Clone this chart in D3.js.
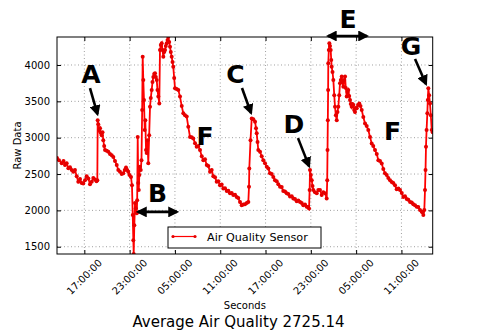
<!DOCTYPE html>
<html><head><meta charset="utf-8">
<script src="https://cdn.jsdelivr.net/npm/d3@7"></script>
<style>body{margin:0;background:#fff} text{font-family:"DejaVu Sans",sans-serif}</style>
</head><body><svg id="c" width="480" height="331"></svg>
<script>
// hours since 00:00 of day 1
const hours = [13.38,13.64,14.00,14.24,14.44,14.66,14.88,15.10,15.33,15.54,15.76,15.99,16.20,16.43,16.65,16.86,17.09,17.31,17.53,17.75,17.98,18.19,18.41,18.61,18.72,
18.77,18.85,18.97,19.08,19.18,19.30,19.41,19.51,19.63,19.74,19.96,20.18,20.40,20.63,20.84,21.06,21.29,21.50,21.72,21.95,22.16,22.35,22.52,22.68,22.82,22.98,23.18,
23.31,23.41,23.49,23.54,23.62,23.71,23.82,23.94,24.00,24.07,24.14,24.21,24.28,24.37,24.47,24.57,24.66,24.73,24.81,24.90,25.00,25.08,25.17,25.26,25.37,25.47,25.59,
25.70,25.80,25.92,26.03,26.14,26.25,26.36,26.47,26.59,26.69,26.80,26.93,27.02,27.13,27.25,27.35,27.46,27.58,27.69,27.79,27.91,28.02,28.12,28.24,28.35,28.45,28.57,
28.68,28.78,28.90,29.01,29.23,29.45,29.67,29.90,30.11,30.33,30.56,30.77,31.00,31.22,31.43,31.66,31.88,32.10,32.32,32.55,32.76,32.98,33.21,33.42,33.65,33.87,34.08,
34.31,34.53,34.74,34.97,35.19,35.41,35.63,35.86,36.07,36.29,36.52,36.73,36.96,37.18,37.39,37.62,37.84,38.06,38.28,38.51,38.72,38.81,38.85,39.01,39.17,39.38,39.61,
39.74,39.83,39.94,40.04,40.27,40.49,40.70,40.93,41.16,41.37,41.59,41.82,42.03,42.25,42.48,42.69,42.92,43.14,43.35,43.58,43.80,44.02,44.24,44.47,44.68,44.90,45.13,
45.34,45.57,45.79,46.00,46.23,46.45,46.63,46.76,46.84,46.89,47.00,47.12,47.22,47.33,47.55,47.78,47.99,48.21,48.44,48.65,48.88,49.10,49.17,49.21,49.25,49.29,49.31,
49.38,49.45,49.54,49.63,49.70,49.76,49.87,49.98,50.10,50.20,50.31,50.43,50.53,50.64,50.76,50.86,50.97,51.09,51.19,51.30,51.42,51.53,51.63,51.75,51.86,51.96,52.08,
52.19,52.29,52.41,52.52,52.63,52.74,52.85,52.96,53.08,53.25,53.42,53.58,53.74,53.95,54.18,54.40,54.61,54.84,55.06,55.27,55.50,55.73,55.94,56.16,56.39,56.60,56.82,
57.05,57.26,57.49,57.71,57.92,58.15,58.37,58.59,58.81,59.04,59.25,59.47,59.70,59.91,60.14,60.36,60.57,60.80,61.02,61.23,61.46,61.69,61.79,61.90,62.03,62.12,62.19,
62.25,62.33,62.43,62.49,62.56,62.67,62.78,62.89,63.01,63.14];
const values = [2720,2690,2650,2680,2625,2650,2580,2595,2555,2530,2555,2470,2395,2430,2375,2370,2415,2470,2440,2360,2395,2445,2425,2400,2415,
3240,3185,3105,3130,3065,3035,3075,2965,2885,2830,2820,2805,2775,2760,2735,2680,2625,2555,2530,2500,2510,2555,2590,2555,2530,2485,2460,
2345,1935,1590,1400,1795,2100,2030,1960,2140,3010,2375,2280,2485,2600,2555,2690,3380,4115,3795,3520,3105,3240,2830,2790,2965,2650,3035,
3425,3545,3655,3765,3835,3875,3885,3835,3795,3655,3565,3470,4205,4275,4300,4205,4115,4180,4205,4260,4300,4345,4385,4315,4250,4180,4115,
4040,3975,3820,3680,3670,3655,3565,3435,3335,3310,3290,3150,3010,3005,2990,2925,2875,2885,2830,2745,2690,2705,2625,2610,2530,2555,2470,
2455,2395,2400,2345,2355,2300,2305,2265,2270,2235,2240,2210,2215,2185,2170,2115,2070,2080,2085,2100,2115,2325,2575,2965,3265,3255,3220,
3130,3060,2940,2830,2805,2745,2690,2650,2600,2575,2510,2500,2460,2415,2400,2360,2325,2320,2265,2260,2235,2225,2190,2195,2165,2155,2125,
2135,2115,2100,2070,2080,2050,2045,2025,2280,2555,2485,2415,2335,2280,2250,2235,2280,2280,2210,2250,2235,2165,2415,2830,3240,3655,4025,
4205,4300,4260,4205,4070,3975,3905,3795,3585,3425,3310,3240,3355,3425,3585,3750,3795,3840,3765,3700,3795,3840,3685,3565,3630,3655,3575,
3520,3465,3425,3465,3450,3380,3355,3410,3405,3450,3470,3435,3380,3285,3195,3160,3105,3010,2920,2885,2830,2775,2690,2680,2645,2570,2510,
2485,2445,2415,2390,2375,2345,2290,2300,2280,2240,2185,2195,2155,2145,2115,2110,2085,2070,2050,2045,2005,1980,1975,1935,2005,2280,2555,
2875,3105,3335,3520,3680,3585,3470,3310,3105,3075];
const yTicks = [1500,2000,2500,3000,3500,4000];
const xTickHours = [17,23,29,35,41,47,53,59];
const seriesName = "Air Quality Sensor";
const chartTitle = "Average Air Quality 2725.14";
const xTitle = "Seconds", yTitle = "Raw Data";
// annotation letters (hour, value)
const letters = ["A","B","C","D","E","F","F","G"];
const letterHours = [17.88,26.69,37.02,44.77,51.92,32.98,57.82,60.27];
const letterValues = [3752,2117,3748,3059,4510,2898,2967,4138];
// single arrows: from (h1,v1) to (h2,v2)
const arrowFromH = [17.75,37.88,45.30,60.80];
const arrowFromV = [3683,3683,2994,4083];
const arrowToH = [18.74,39.08,46.76,62.25];
const arrowToV = [3325,3339,2609,3738];
// double arrows
const dblFromH = [24.11,49.27], dblToH = [29.27,54.44], dblV = [1979,4399];

const base = new Date(2015,0,1,0,0,0).getTime();
const toDate = h => new Date(base + h*3600e3);
const data = hours.map((h,i)=>({t:toDate(h), v:values[i]}));

const svg = d3.select("#c");
const L=57, R=432.7, T=37, B=254;
const x = d3.scaleTime().domain(d3.extent(data,d=>d.t)).range([L,R]);
const y = d3.scaleLinear().domain(d3.extent(values)).range([B,T]);
const xTicks = xTickHours.map(toDate);

// grid
const g = svg.append("g");
g.selectAll(".gx").data(xTicks).enter().append("line")
 .attr("x1",d=>x(d)).attr("x2",d=>x(d)).attr("y1",T).attr("y2",B)
 .attr("stroke","#777").attr("stroke-width",0.7).attr("stroke-dasharray","1,2.5");
g.selectAll(".gy").data(yTicks).enter().append("line")
 .attr("x1",L).attr("x2",R).attr("y1",d=>y(d)).attr("y2",d=>y(d))
 .attr("stroke","#777").attr("stroke-width",0.7).attr("stroke-dasharray","1,2.5");

// axes
const fmt = d3.timeFormat("%H:%M:%S");
const ax = svg.append("g").attr("transform",`translate(0,${B})`)
 .call(d3.axisBottom(x).tickValues(xTicks).tickSize(-4).tickFormat(""));
const axT = svg.append("g").attr("transform",`translate(0,${T})`)
 .call(d3.axisTop(x).tickValues(xTicks).tickSize(-4).tickFormat(""));
const ay = svg.append("g").attr("transform",`translate(${L},0)`)
 .call(d3.axisLeft(y).tickValues(yTicks).tickSize(-4).tickPadding(7).tickFormat(d3.format("d")));
const ayR = svg.append("g").attr("transform",`translate(${R},0)`)
 .call(d3.axisRight(y).tickValues(yTicks).tickSize(-4).tickFormat(""));
[ax,axT,ay,ayR].forEach(a=>{a.select(".domain").remove(); a.selectAll("line").attr("stroke","#000");});
ay.selectAll("text").attr("font-size",10).attr("fill","#000").attr("font-family","DejaVu Sans");

svg.append("g").selectAll("text").data(xTicks).enter().append("text")
 .attr("transform",d=>`translate(${x(d)},${B+23}) rotate(-45)`)
 .attr("text-anchor","middle").attr("dy","0.35em").attr("font-size",10).text(d=>fmt(d));

// series
const line = d3.line().x(d=>x(d.t)).y(d=>y(d.v));
const clip = svg.append("clipPath").attr("id","cp").append("rect").attr("x",L).attr("y",T).attr("width",R-L).attr("height",B-T);
const sg = svg.append("g").attr("clip-path","url(#cp)");
sg.append("path").datum(data).attr("d",line).attr("fill","none").attr("stroke","#ff0000").attr("stroke-width",1.8);
sg.selectAll("circle").data(data).enter().append("circle")
 .attr("cx",d=>x(d.t)).attr("cy",d=>y(d.v)).attr("r",2).attr("fill","#e60000");

// frame
svg.append("rect").attr("x",L).attr("y",T).attr("width",R-L).attr("height",B-T)
 .attr("fill","none").attr("stroke","#000").attr("stroke-width",1);

// legend
const lg = svg.append("g");
lg.append("rect").attr("x",168).attr("y",227).attr("width",153).attr("height",21)
 .attr("fill","#fff").attr("stroke","#000").attr("stroke-width",1);
lg.append("line").attr("x1",173).attr("x2",195).attr("y1",236.5).attr("y2",236.5).attr("stroke","#ff0000").attr("stroke-width",1.2);
lg.selectAll("circle").data([173,195]).enter().append("circle").attr("cx",d=>d).attr("cy",236.5).attr("r",1.6).attr("fill","#e60000");
lg.append("text").attr("x",207).attr("y",240.8).attr("font-size",11.2).text(seriesName);

// titles
svg.append("text").attr("transform",`translate(21,145.5) rotate(-90)`).attr("text-anchor","middle")
 .attr("font-size",10).text(yTitle);
svg.append("text").attr("x",(L+R)/2).attr("y",308.5).attr("text-anchor","middle").attr("font-size",10).text(xTitle);
svg.append("text").attr("x",238.5).attr("y",326.5).attr("text-anchor","middle").attr("font-size",15).text(chartTitle);

// annotations
const defs = svg.append("defs");
defs.append("marker").attr("id","ah").attr("viewBox","0 0 10 10").attr("refX",8).attr("refY",5)
 .attr("markerWidth",4.2).attr("markerHeight",4.2).attr("orient","auto-start-reverse")
 .append("path").attr("d","M0,0 L10,5 L0,10 z").attr("fill","#000");
const an = svg.append("g");
an.selectAll("text").data(letters).enter().append("text")
 .attr("x",(d,i)=>x(toDate(letterHours[i]))).attr("y",(d,i)=>y(letterValues[i]))
 .attr("text-anchor","middle").attr("font-size",25).attr("font-weight","bold").attr("fill","#000").text(d=>d);
an.selectAll(".sa").data(arrowFromH).enter().append("line")
 .attr("x1",(d,i)=>x(toDate(d))).attr("y1",(d,i)=>y(arrowFromV[i]))
 .attr("x2",(d,i)=>x(toDate(arrowToH[i]))).attr("y2",(d,i)=>y(arrowToV[i]))
 .attr("stroke","#000").attr("stroke-width",2.6).attr("marker-end","url(#ah)");
an.selectAll(".da").data(dblFromH).enter().append("line")
 .attr("x1",(d,i)=>x(toDate(d))).attr("y1",(d,i)=>y(dblV[i]))
 .attr("x2",(d,i)=>x(toDate(dblToH[i]))).attr("y2",(d,i)=>y(dblV[i]))
 .attr("stroke","#000").attr("stroke-width",2.6).attr("marker-end","url(#ah)").attr("marker-start","url(#ah)");
</script></body></html>
